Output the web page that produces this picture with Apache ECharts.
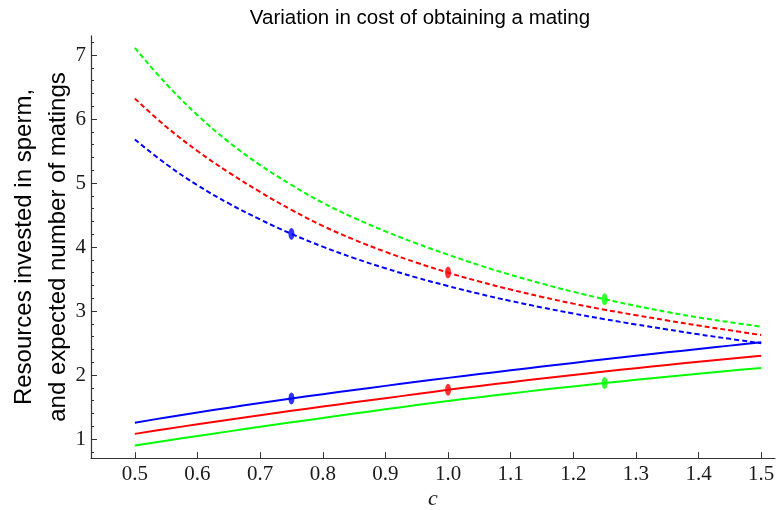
<!DOCTYPE html>
<html>
<head>
<meta charset="utf-8">
<script src="https://cdn.jsdelivr.net/npm/echarts@6/dist/echarts.min.js"></script>
<style>html,body{margin:0;padding:0;background:#fff;}#chart{width:779px;height:510px;}</style>
</head>
<body>
<div id="chart"></div>
<script>
// cost parameter c
const cValues = [0.5, 0.55, 0.6, 0.65, 0.7, 0.75, 0.8, 0.85, 0.9, 0.95, 1.0,
                 1.05, 1.1, 1.15, 1.2, 1.25, 1.3, 1.35, 1.4, 1.45, 1.5];
// dashed curves (expected number of matings)
const greenDashed = [7.11, 6.55, 6.06, 5.64, 5.28, 4.97, 4.69, 4.455, 4.245, 4.055, 3.88,
                     3.715, 3.565, 3.428, 3.30, 3.185, 3.08, 2.985, 2.898, 2.825, 2.755];
const redDashed   = [6.32, 5.88, 5.50, 5.165, 4.86, 4.58, 4.33, 4.115, 3.925, 3.755, 3.60,
                     3.46, 3.335, 3.22, 3.115, 3.02, 2.935, 2.852, 2.773, 2.698, 2.625];
const blueDashed  = [5.68, 5.295, 4.965, 4.68, 4.43, 4.205, 4.005, 3.827, 3.667, 3.522, 3.39,
                     3.268, 3.157, 3.055, 2.96, 2.872, 2.79, 2.712, 2.635, 2.565, 2.495];
// solid curves (resources invested in sperm)
const blueSolid  = [1.255, 1.337, 1.415, 1.49, 1.562, 1.632, 1.70, 1.766, 1.83, 1.893, 1.955,
                    2.015, 2.074, 2.132, 2.189, 2.245, 2.30, 2.354, 2.407, 2.459, 2.51];
const redSolid   = [1.08, 1.156, 1.23, 1.302, 1.372, 1.44, 1.507, 1.573, 1.638, 1.702, 1.768,
                    1.829, 1.888, 1.945, 2.0, 2.054, 2.106, 2.157, 2.206, 2.254, 2.30];
const greenSolid = [0.90, 0.974, 1.047, 1.119, 1.19, 1.26, 1.329, 1.397, 1.464, 1.53, 1.594,
                    1.654, 1.712, 1.768, 1.822, 1.874, 1.924, 1.972, 2.02, 2.066, 2.11];
// marked points: c value per colour
const markerC = { blue: 0.75, red: 1.0, green: 1.25 };
// axis ticks
const xTicks = [0.5, 0.6, 0.7, 0.8, 0.9, 1.0, 1.1, 1.2, 1.3, 1.4, 1.5];
const yTicks = [1, 2, 3, 4, 5, 6, 7];
const yMinorTicks = [0.8, 1.2, 1.4, 1.6, 1.8, 2.2, 2.4, 2.6, 2.8, 3.2, 3.4, 3.6, 3.8,
  4.2, 4.4, 4.6, 4.8, 5.2, 5.4, 5.6, 5.8, 6.2, 6.4, 6.6, 6.8, 7.2];

const pairs = (ys) => cValues.map((c, i) => [c, ys[i]]);
const at = (ys, c) => ys[cValues.indexOf(c)];

const COLORS = { blue: '#0000ff', red: '#ff0000', green: '#00ff00' };

function lineSeries(ys, color, dashed) {
  return {
    type: 'line', data: pairs(ys), smooth: 0.4, showSymbol: false, symbol: 'none',
    xAxisIndex: 0, yAxisIndex: 0, z: 3,
    lineStyle: { color: color, width: 2, type: dashed ? [5, 3] : 'solid' },
    silent: true, animation: false
  };
}
function markerSeries(name) {
  const c = markerC[name];
  const d = { blue: [blueDashed, blueSolid], red: [redDashed, redSolid], green: [greenDashed, greenSolid] }[name];
  return {
    type: 'scatter', data: [[c, at(d[0], c)], [c, at(d[1], c)]],
    symbol: 'circle', symbolSize: [6, 12], z: 5,
    itemStyle: { color: COLORS[name] }, silent: true, animation: false
  };
}

const axisColor = '#333333';
const tickFont = { fontFamily: 'Liberation Serif', fontSize: 21, color: '#1a1a1a' };

const chart = echarts.init(document.getElementById('chart'), null, { renderer: 'canvas' });
chart.setOption({
  animation: false,
  backgroundColor: '#ffffff',
  title: {
    text: 'Variation in cost of obtaining a mating',
    left: 415, top: 3, textAlign: 'center',
    textStyle: { fontFamily: 'Liberation Sans', fontSize: 20.5, fontWeight: 'normal', color: '#000' }
  },
  grid: { left: 91, right: 4, top: 35.8, bottom: 51.8, containLabel: false, outerBoundsMode: 'none' },
  xAxis: {
    type: 'value', min: 0.43, max: 1.522,
    name: 'c', nameLocation: 'middle', nameGap: 30, nameMoveOverlap: false,
    nameTextStyle: { fontFamily: 'Liberation Serif', fontStyle: 'italic', fontSize: 22, color: '#1a1a1a' },
    axisLine: { show: true, lineStyle: { color: axisColor, width: 1.2 } },
    axisTick: { show: true, inside: true, length: 6, customValues: xTicks, lineStyle: { color: axisColor } },
    axisLabel: { customValues: xTicks, margin: 6, formatter: (v) => v.toFixed(1), ...tickFont },
    splitLine: { show: false }
  },
  yAxis: [
    {
      type: 'value', min: 0.7, max: 7.3, position: 'left',
      name: 'Resources invested in sperm,\nand expected number of matings',
      nameLocation: 'middle', nameGap: 50, nameRotate: 90, nameMoveOverlap: false,
      nameTextStyle: { fontFamily: 'Liberation Sans', fontSize: 24, lineHeight: 34, color: '#000', verticalAlign: 'middle' },
      axisLine: { show: true, lineStyle: { color: axisColor, width: 1.2 } },
      axisTick: { show: true, inside: true, length: 6, customValues: yTicks, lineStyle: { color: axisColor } },
      axisLabel: { customValues: yTicks, margin: 5, ...tickFont },
      splitLine: { show: false }
    },
    {
      type: 'value', min: 0.7, max: 7.3, position: 'left', offset: 0,
      axisLine: { show: false },
      axisTick: { show: true, inside: true, length: 3, customValues: yMinorTicks, lineStyle: { color: axisColor } },
      axisLabel: { show: false },
      splitLine: { show: false }
    }
  ],
  series: [
    lineSeries(greenDashed, COLORS.green, true),
    lineSeries(redDashed, COLORS.red, true),
    lineSeries(blueDashed, COLORS.blue, true),
    lineSeries(blueSolid, COLORS.blue, false),
    lineSeries(redSolid, COLORS.red, false),
    lineSeries(greenSolid, COLORS.green, false),
    markerSeries('blue'),
    markerSeries('red'),
    markerSeries('green')
  ]
});
</script>
</body>
</html>
